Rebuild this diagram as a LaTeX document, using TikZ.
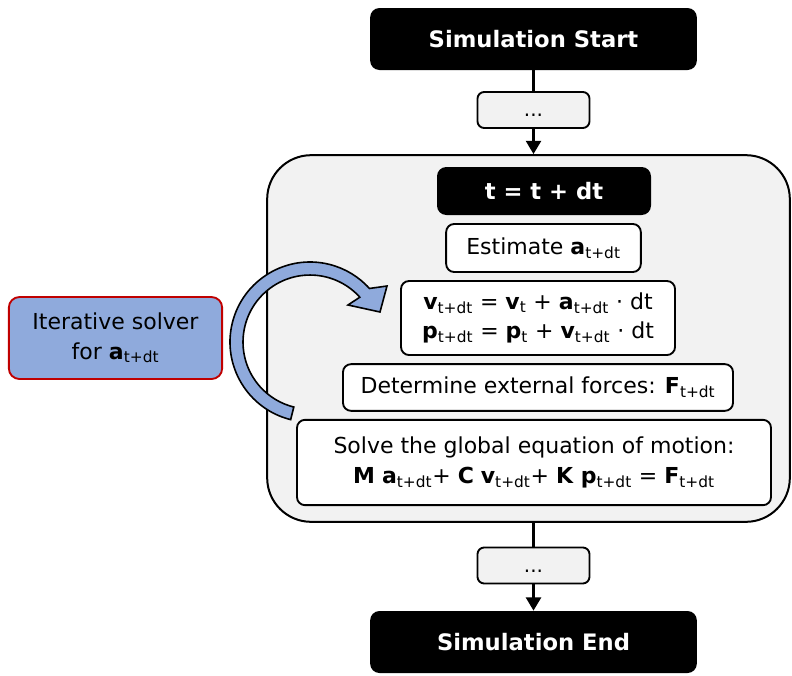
\documentclass[tikz,border=0pt]{standalone}
\usepackage{fontspec}
\setmainfont{DejaVu Sans}
\usetikzlibrary{arrows.meta}
\definecolor{panelgray}{HTML}{F2F2F2}
\definecolor{solverblue}{HTML}{8FAADC}
\definecolor{solverred}{HTML}{C00000}
\newcommand{\tdt}{\textsubscript{t+dt}}
\newcommand{\bv}[1]{\textbf{#1}}
\newcommand{\lowdots}{\raisebox{-5pt}[0pt][0pt]{...}}

\begin{document}
\begin{tikzpicture}[x=0.75pt, y=-0.75pt,
  blackbox/.style = {shape=rectangle, rounded corners=7pt, fill=black,
    text=white, font=\fontsize{17}{20}\selectfont\bfseries},
  stepbox/.style = {shape=rectangle, rounded corners=6pt, draw,
    line width=1.4pt, fill=white, align=center, inner sep=2pt,
    font=\fontsize{16.5}{22}\selectfont},
  dotsbox/.style = {shape=rectangle, rounded corners=5pt, draw,
    line width=1.4pt, fill=panelgray, minimum width=84pt,
    minimum height=27pt, inner sep=0pt, font=\fontsize{15}{18}\selectfont},
  panel/.style = {shape=rectangle, rounded corners=33pt, draw,
    line width=1.5pt, fill=panelgray},
  link/.style = {line width=2.5pt},
  loop arrow/.style = {draw, line width=1.2pt, fill=solverblue}]
  \useasboundingbox (0,0) rectangle (792,675);

  % main chain
  \node[blackbox, minimum width=245pt, minimum height=46.5pt]
    (start) at (533.5,39) {Simulation Start};
  \node[dotsbox] (dotsA) at (533.5,110) {\lowdots};
  \node[panel, minimum width=392pt, minimum height=275pt]
    (loop) at (528.5,338.5) {};
  \node[blackbox, minimum width=160.5pt, minimum height=36pt]
    (tstep) at (544,191) {t = t + dt};
  \node[stepbox, minimum width=146pt, minimum height=36pt]
    (estimate) at (543.5,248) {Estimate \bv{a}\tdt};
  \node[stepbox, minimum width=205.5pt, minimum height=55.5pt]
    (update) at (538,318)
    {\bv{v}\tdt{} = \bv{v}\textsubscript{t} + \bv{a}\tdt{} · dt\\
     \bv{p}\tdt{} = \bv{p}\textsubscript{t} + \bv{v}\tdt{} · dt};
  \node[stepbox, minimum width=292.5pt, minimum height=35pt]
    (forces) at (538,387.5) {Determine external forces: \bv{F}\tdt};
  \node[stepbox, minimum width=355.5pt, minimum height=64pt]
    (solve) at (534,462.5)
    {Solve the global equation of motion:\\[1pt]
     \bv{M} \bv{a}\tdt+ \bv{C} \bv{v}\tdt+ \bv{K} \bv{p}\tdt{} = \bv{F}\tdt};
  \node[dotsbox] (dotsB) at (533.5,565.5) {\lowdots};
  \node[blackbox, minimum width=245pt, minimum height=46.5pt]
    (end) at (533.5,642) {Simulation End};

  % side note
  \node[shape=rectangle, rounded corners=8pt, draw=solverred,
    line width=1.4pt, fill=solverblue, align=center,
    minimum width=160pt, minimum height=61.5pt,
    font=\fontsize{16.5}{22}\selectfont]
    (solver) at (115.5,338) {Iterative solver\\for \bv{a}\tdt};

  % connectors
  \draw[link] (start) -- (dotsA);
  \draw[link, -{Triangle[width=11pt,length=10pt]}]
    (dotsA) -- (dotsA |- loop.north);
  \draw[link] (loop.south -| dotsB) -- (dotsB);
  \draw[link, -{Triangle[width=11pt,length=10pt]}] (dotsB) -- (end);

  % iteration arrow
  \coordinate (turn) at (310,342);
  \draw[loop arrow] (turn) ++(104:80)
    arc[start angle=104, end angle=318, radius=80]
    -- (387,286) -- (380,312) -- (348,305) -- (359.8,297.2)
    arc[start angle=318, end angle=104, radius=67]
    -- cycle;
\end{tikzpicture}
\end{document}
